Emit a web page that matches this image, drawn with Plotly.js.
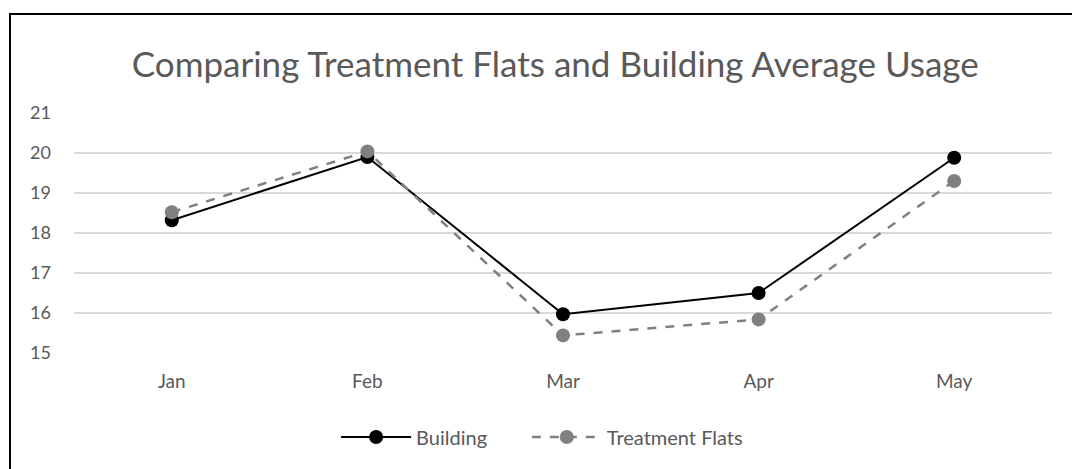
<!DOCTYPE html>
<html>
<head>
<meta charset="utf-8">
<script src="https://cdn.plot.ly/plotly-3.0.1.min.js"></script>
<style>
html,body{margin:0;padding:0;background:#fff;overflow:hidden;}
#frame{position:absolute;left:9px;top:13px;width:1100px;height:500px;border-left:2px solid #000;border-top:2px solid #000;pointer-events:none;z-index:10;}
#chart{position:absolute;left:0;top:0;width:1072px;height:469px;}
</style>
</head>
<body>
<div id="chart"></div>
<div id="frame"></div>
<script>
var months = ["Jan", "Feb", "Mar", "Apr", "May"];
var building = [18.32, 19.9, 15.97, 16.5, 19.88];
var treatmentFlats = [18.52, 20.04, 15.44, 15.84, 19.3];
var yTicks = [15, 16, 17, 18, 19, 20, 21];

var traces = [
  {
    x: months, y: building, name: "Building", type: "scatter", mode: "lines+markers",
    line: {color: "#000000", width: 2},
    marker: {color: "#000000", size: 14},
    legend: "legend"
  },
  {
    x: months, y: treatmentFlats, name: "Treatment Flats", type: "scatter", mode: "lines+markers",
    line: {color: "#808080", width: 2.5, dash: "dash"},
    marker: {color: "#808080", size: 14},
    legend: "legend2"
  }
];

var legendCommon = {orientation: "h", xanchor: "left", y: -0.35, yanchor: "middle", font: {size: 20, color: "#595959"}, itemwidth: 70, bgcolor: "rgba(0,0,0,0)"};

var layout = {
  width: 1072, height: 469,
  margin: {l: 74, r: 20, t: 113, b: 114},
  paper_bgcolor: "#ffffff", plot_bgcolor: "#ffffff",
  font: {family: "Lato, 'Open Sans', sans-serif", color: "#595959", size: 18},
  title: {text: "Comparing Treatment Flats and Building Average Usage", x: 0.518, xanchor: "center", y: 0.863, yanchor: "middle",
          font: {size: 35, color: "#595959", family: "Lato, 'Open Sans', sans-serif"}},
  xaxis: {type: "category", range: [-0.5, 4.5], showgrid: false, zeroline: false, showline: false, ticks: "", tickfont: {size: 19}, ticklabelstandoff: 15, fixedrange: true},
  yaxis: {range: [15, 21], tickvals: yTicks, ticktext: yTicks.map(String), showgrid: true, gridcolor: "#d9d9d9", gridwidth: 2,
          zeroline: false, showline: false, ticks: "", tickfont: {size: 18}, ticklabelstandoff: 22, fixedrange: true},
  showlegend: true,
  legend: Object.assign({}, legendCommon, {x: 0.268}),
  legend2: Object.assign({}, legendCommon, {x: 0.463})
};

Plotly.newPlot("chart", traces, layout, {displayModeBar: false, staticPlot: true});
</script>
</body>
</html>
